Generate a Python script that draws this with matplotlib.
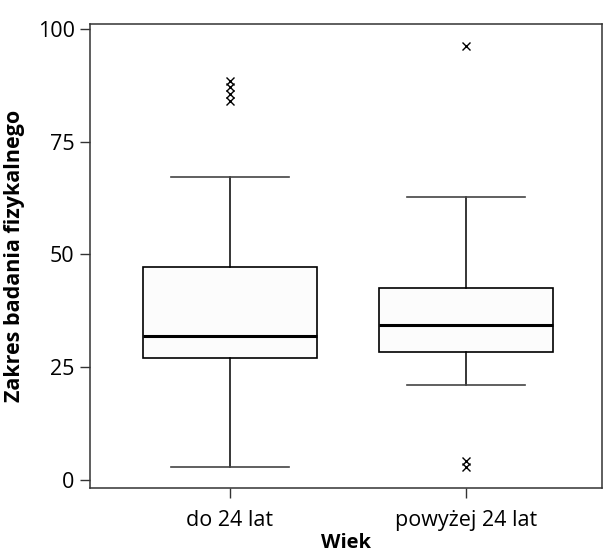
import matplotlib
matplotlib.use("Agg")
import matplotlib.pyplot as plt

# wartości
grupy = ["do 24 lat", "powyżej 24 lat"]
q1 = [27.1, 28.4]
mediana = [31.9, 34.4]
q3 = [47.2, 42.6]
wasy_dol = [2.9, 21.1]
wasy_gora = [67.2, 62.7]
odstajace = [[84.0, 85.5, 87.0, 88.5], [2.9, 4.2, 96.2]]
yticki = [0, 25, 50, 75, 100]

plt.rcParams["font.family"] = ["Open Sans", "DejaVu Sans"]

stats = []
for i, g in enumerate(grupy):
    stats.append({"label": g, "q1": q1[i], "med": mediana[i], "q3": q3[i],
                  "whislo": wasy_dol[i], "whishi": wasy_gora[i],
                  "fliers": odstajace[i]})

fig = plt.figure(figsize=(6.08, 5.59), dpi=100)
ax = fig.add_axes([90/608, 71/559, 512/608, 463.7/559])

ax.bxp(stats, positions=[1, 2], widths=0.74, patch_artist=True,
       boxprops=dict(facecolor="#fcfcfc", edgecolor="black", linewidth=1.2),
       medianprops=dict(color="black", linewidth=2.2),
       whiskerprops=dict(color="black", linewidth=1.1),
       capprops=dict(color="#444444", linewidth=1.2), capwidths=0.5,
       flierprops=dict(marker="x", markersize=5.5, markeredgecolor="black",
                       markeredgewidth=1.0))

ax.set_xlim(0.407, 2.576)
ax.set_ylim(-1.8, 101.0)
ax.set_yticks(yticki)
ax.set_xticks([1, 2])
ax.set_xticklabels(grupy)

for s in ax.spines.values():
    s.set_linewidth(1.1)
    s.set_color("#333333")

ax.tick_params(axis="y", length=7, width=1.0, pad=4, labelsize=15.5, color="#333333")
ax.tick_params(axis="x", length=7, width=1.0, pad=9, labelsize=15.5, color="#333333")

ax.set_xlabel("Wiek", fontsize=14.5, fontweight="bold", labelpad=1)
ax.set_ylabel("Zakres badania fizykalnego", fontsize=15.5, fontweight="bold", labelpad=9)

fig.savefig("out.png", dpi=100)
